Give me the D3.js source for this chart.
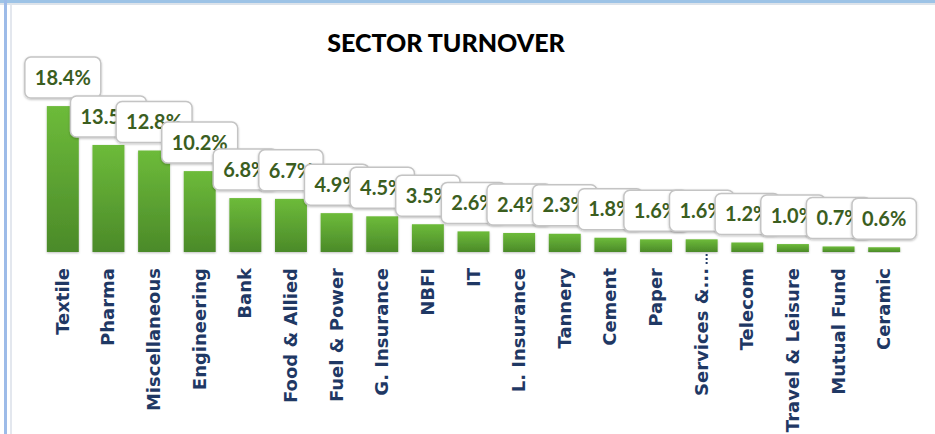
<!DOCTYPE html>
<html>
<head>
<meta charset="utf-8">
<script src="https://cdn.jsdelivr.net/npm/d3@7"></script>
<style>
  body { margin: 0; background: #fff; }
  svg { display: block; }
</style>
</head>
<body>
<svg id="chart"></svg>
<script>
// sector turnover shares (%)
var sectors = ["Textile", "Pharma", "Miscellaneous", "Engineering", "Bank", "Food & Allied",
    "Fuel & Power", "G. Insurance", "NBFI", "IT", "L. Insurance", "Tannery", "Cement",
    "Paper", "Services &...", "Telecom", "Travel & Leisure", "Mutual Fund", "Ceramic"]
var turnover = [18.4, 13.5, 12.8, 10.2, 6.8, 6.7, 4.9, 4.5, 3.5, 2.6, 2.4, 2.3, 1.8, 1.6, 1.6, 1.2, 1.0, 0.7, 0.6]
var labels = ["18.4%", "13.5%", "12.8%", "10.2%", "6.8%", "6.7%", "4.9%", "4.5%", "3.5%", "2.6%",
    "2.4%", "2.3%", "1.8%", "1.6%", "1.6%", "1.2%", "1.0%", "0.7%", "0.6%"]

var data = sectors.map((s, i) => ({sector: s, value: turnover[i], label: labels[i]}))

width = 935
height = 434
var svg = d3.select("#chart")
    .attr("width", width)
    .attr("height", height)

var defs = svg.append("defs")
var grad = defs.append("linearGradient")
    .attr("id", "barGrad")
    .attr("x1", 0).attr("y1", 0).attr("x2", 0).attr("y2", 1)
grad.append("stop").attr("offset", "0%").attr("stop-color", "#6dbb3a")
grad.append("stop").attr("offset", "100%").attr("stop-color", "#4b8a29")

var shadow = defs.append("filter").attr("id", "shadow")
    .attr("x", "-20%").attr("y", "-20%").attr("width", "140%").attr("height", "140%")
shadow.append("feDropShadow")
    .attr("dx", 0).attr("dy", 1).attr("stdDeviation", 1.2)
    .attr("flood-color", "#000").attr("flood-opacity", 0.25)

// window frame
svg.append("rect").attr("x", 0).attr("y", 0).attr("width", width).attr("height", 3).attr("fill", "#9dc3e6")
svg.append("rect").attr("x", 0).attr("y", 3).attr("width", width).attr("height", 2).attr("fill", "#dde3ea")
svg.append("rect").attr("x", 4).attr("y", 0).attr("width", 3).attr("height", height).attr("fill", "#9dbbe8")
svg.append("rect").attr("x", 10).attr("y", 5).attr("width", 2).attr("height", height).attr("fill", "#e3e7ee")

svg.append("text")
    .attr("x", 446)
    .attr("y", 52)
    .attr("text-anchor", "middle")
    .style("font-family", "Lato, 'Open Sans', sans-serif")
    .style("font-weight", "900")
    .style("font-size", "25px")
    .attr("fill", "#000")
    .text("SECTOR TURNOVER")

var x = d3.scaleBand()
    .domain(sectors)
    .range([40, 907])
    .paddingInner(0.3)
    .paddingOuter(0.15)

var y = d3.scaleLinear()
    .domain([0, 20])
    .range([252, 93.4])

// baseline
svg.append("line")
    .attr("x1", 40).attr("x2", 907)
    .attr("y1", y(0) + 0.5).attr("y2", y(0) + 0.5)
    .attr("stroke", "#d9d9d9")
    .attr("stroke-width", 1.5)
    .attr("filter", "url(#shadow)")

svg.selectAll("rect.bar")
    .data(data)
    .enter()
    .append("rect")
    .attr("class", "bar")
    .attr("x", d => x(d.sector))
    .attr("y", d => y(d.value))
    .attr("width", x.bandwidth())
    .attr("height", d => y(0) - y(d.value))
    .attr("fill", "url(#barGrad)")
    .attr("filter", "url(#shadow)")

// category labels
svg.selectAll("text.cat")
    .data(data)
    .enter()
    .append("text")
    .attr("class", "cat")
    .attr("transform", d => "translate(" + (x(d.sector) + x.bandwidth() / 2 + 6) + ",268) rotate(-90)")
    .attr("text-anchor", "end")
    .style("font-family", "'DejaVu Sans', Verdana, sans-serif")
    .style("font-weight", "bold")
    .style("font-size", "18px")
    .attr("fill", "#1f3864")
    .text(d => d.sector)

// stray dotted marker under Services
svg.append("line")
    .attr("x1", x("Services &...") + x.bandwidth() - 11)
    .attr("x2", x("Services &...") + x.bandwidth() - 11)
    .attr("y1", y(0) + 2).attr("y2", y(0) + 13)
    .attr("stroke", "#1f3864")
    .attr("stroke-width", 2)
    .attr("stroke-dasharray", "2,2")

// data label callouts, drawn in order so later boxes cover earlier ones
var lab = svg.selectAll("g.lab")
    .data(data)
    .enter()
    .append("g")
    .attr("class", "lab")
    .attr("transform", d => "translate(" + (x(d.sector) + x.bandwidth() / 2) + "," + (y(d.value) - 28.5) + ")")

lab.each(function (d) {
    var g = d3.select(this)
    var rect = g.append("rect")
    var t = g.append("text")
        .attr("text-anchor", "middle")
        .attr("dy", "0.36em")
        .style("font-family", "Lato, 'Open Sans', sans-serif")
        .style("font-weight", "bold")
        .style("font-size", "20px")
        .attr("fill", "#3b5e1f")
        .text(d.label)
    var w = t.node().getComputedTextLength() + 20
    rect.attr("x", -w / 2).attr("y", -20.5)
        .attr("width", w).attr("height", 41)
        .attr("rx", 6)
        .attr("fill", "#fff")
        .attr("stroke", "#c4c4c4")
        .attr("stroke-width", 1.5)
        .attr("filter", "url(#shadow)")
})
</script>
</body>
</html>
